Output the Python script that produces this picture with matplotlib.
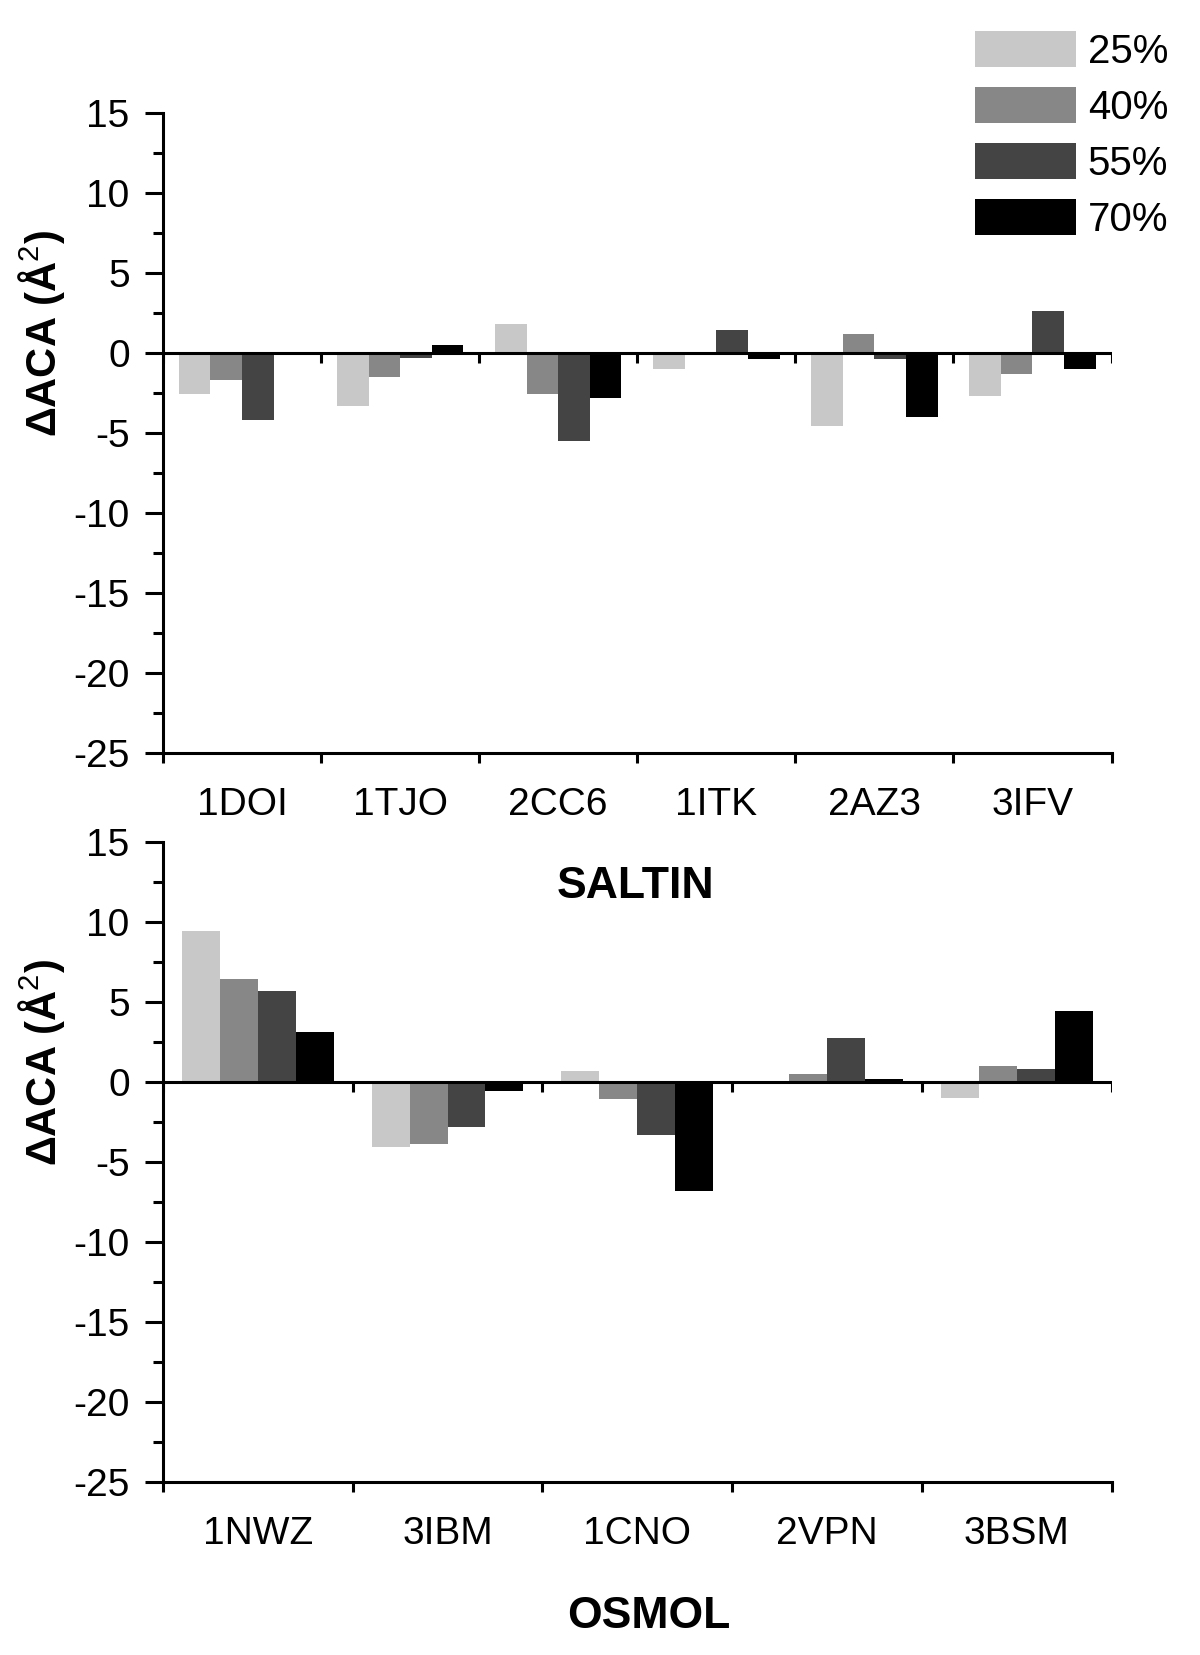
import matplotlib
matplotlib.use("Agg")
import matplotlib.pyplot as plt
import numpy as np
from matplotlib.ticker import MultipleLocator, FixedLocator
from matplotlib.patches import Patch

plt.rcParams['font.family'] = ['Liberation Sans', 'DejaVu Sans']
plt.rcParams['mathtext.fontset'] = 'custom'
plt.rcParams['mathtext.rm'] = 'Liberation Sans'
plt.rcParams['mathtext.bf'] = 'Liberation Sans:bold'
plt.rcParams['axes.unicode_minus'] = False

series = ['25%', '40%', '55%', '70%']
colors = ['#c8c8c8', '#878787', '#444444', '#000000']

saltin_cats = ['1DOI', '1TJO', '2CC6', '1ITK', '2AZ3', '3IFV']
saltin_25 = [-2.6, -3.3, 1.8, -1.0, -4.6, -2.7]
saltin_40 = [-1.7, -1.5, -2.6, 0.0, 1.2, -1.3]
saltin_55 = [-4.2, -0.3, -5.5, 1.4, -0.4, 2.6]
saltin_70 = [-0.1, 0.5, -2.8, -0.4, -4.0, -1.0]

osmol_cats = ['1NWZ', '3IBM', '1CNO', '2VPN', '3BSM']
osmol_25 = [9.4, -4.1, 0.7, 0.0, -1.0]
osmol_40 = [6.4, -3.9, -1.1, 0.5, 1.0]
osmol_55 = [5.7, -2.8, -3.3, 2.75, 0.8]
osmol_70 = [3.1, -0.6, -6.8, 0.2, 4.4]

y_min, y_max = -25, 15
ylabel = 'ΔACA (Å$^{2}$)'

W, H = 1200, 1655
fig = plt.figure(figsize=(W / 100, H / 100), dpi=100)

LW = 2.2


def draw(ax, cats, vals):
    n = len(cats)
    x = np.arange(n)
    for k, (v, c, lab) in enumerate(zip(vals, colors, series)):
        ax.bar(x + 0.1 + 0.2 * k, v, width=0.2, align='edge', color=c,
               label=lab, linewidth=0, zorder=2)
    ax.set_xlim(0, n)
    ax.set_ylim(y_min, y_max)
    ax.axhline(0, color='black', lw=LW, zorder=3)
    ax.vlines(np.arange(n + 1), 0, -0.67, color='black', lw=LW, zorder=3)
    for s in ('top', 'right'):
        ax.spines[s].set_visible(False)
    for s in ('left', 'bottom'):
        ax.spines[s].set_linewidth(LW)
    ax.xaxis.set_major_locator(FixedLocator(np.arange(n + 1)))
    ax.xaxis.set_minor_locator(FixedLocator(x + 0.5))
    ax.xaxis.set_ticklabels([], minor=False)
    ax.xaxis.set_ticklabels(cats, minor=True)
    ax.tick_params(axis='x', which='major', direction='out', length=7.5, width=LW)
    ax.tick_params(axis='x', which='minor', length=0, pad=25, labelsize=28)
    ax.yaxis.set_major_locator(MultipleLocator(5))
    ax.yaxis.set_minor_locator(MultipleLocator(2.5))
    ax.tick_params(axis='y', which='major', direction='out', length=13, width=LW,
                   pad=11, labelsize=28)
    ax.tick_params(axis='y', which='minor', direction='out', length=7.5, width=LW)
    ax.set_ylabel(ylabel, fontsize=30, fontweight='bold')
    ax.yaxis.set_label_coords(-0.101, 0.655)


ax1 = fig.add_axes([163 / W, 1 - 752.7 / H, 948.5 / W, 640 / H])
draw(ax1, saltin_cats, [saltin_25, saltin_40, saltin_55, saltin_70])
ax2 = fig.add_axes([163 / W, 1 - 1481.7 / H, 948.5 / W, 640 / H])
draw(ax2, osmol_cats, [osmol_25, osmol_40, osmol_55, osmol_70])

fig.text(636 / W, 1 - 886 / H, 'SALTIN', ha='center', va='center',
         fontsize=32, fontweight='bold')
fig.text(649 / W, 1 - 1616 / H, 'OSMOL', ha='center', va='center',
         fontsize=32, fontweight='bold')

handles = [Patch(facecolor=c, edgecolor='none') for c in colors]
fig.legend(handles, series, loc='upper left', bbox_to_anchor=(975 / W, 1 - 31 / H),
           frameon=False, fontsize=29, handlelength=2.5, handleheight=1.0,
           handletextpad=0.3, labelspacing=0.40, borderpad=0, borderaxespad=0)

fig.savefig('out.png', dpi=100)
